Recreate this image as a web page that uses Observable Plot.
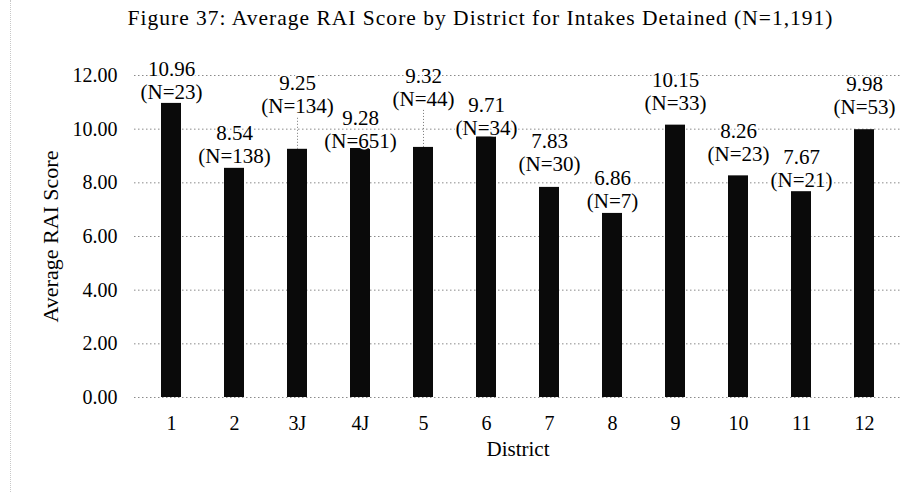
<!DOCTYPE html>
<html>
<head>
<meta charset="utf-8">
<script src="https://cdn.jsdelivr.net/npm/d3@7"></script>
<script src="https://cdn.jsdelivr.net/npm/@observablehq/plot@0.6"></script>
<style>
  html, body { margin: 0; padding: 0; background: #fff; }
  #wrap { position: relative; width: 915px; height: 492px; overflow: hidden; }
  #edge { position: absolute; left: 10px; top: 0; height: 492px; border-left: 1px dotted #c8c8c8; }
</style>
</head>
<body>
<div id="wrap"><div id="edge"></div></div>
<script>
const districts = ["1", "2", "3J", "4J", "5", "6", "7", "8", "9", "10", "11", "12"];
const scores = [10.96, 8.54, 9.25, 9.28, 9.32, 9.71, 7.83, 6.86, 10.15, 8.26, 7.67, 9.98];
const counts = [23, 138, 134, 651, 44, 34, 30, 7, 33, 23, 21, 53];
const yTicks = [0, 2, 4, 6, 8, 10, 12];
const titleText = "Figure 37: Average RAI Score by District for Intakes Detained (N=1,191)";
const yLabel = "Average RAI Score";
const xLabel = "District";

// layout: pixel lift of each "(N=…)" label above its bar top
const labelLift = [11, 12, 43, 7, 48, 9, 23, 12, 22, 22, 11, 22];
const leaderBars = ["3J", "5"];

const W = 915, H = 492;
const mT = 75, mB = 95, mL = 134, mR = 14;
const yMax = 12;
const ppu = (H - mT - mB) / yMax;

const data = districts.map((d, i) => ({
  district: d, score: scores[i], n: counts[i], lift: labelLift[i]
}));

const font = "'Liberation Serif', 'Times New Roman', serif";

const chart = Plot.plot({
  width: W, height: H,
  marginTop: mT, marginBottom: mB, marginLeft: mL, marginRight: mR,
  style: { fontFamily: font, fontSize: "20px", color: "#000", background: "transparent" },
  x: { domain: districts, paddingInner: 0.687, paddingOuter: 0.3435, label: null },
  y: { domain: [0, yMax], label: null },
  marks: [
    Plot.ruleY(yTicks, { stroke: "#8a8a8a", strokeDasharray: "1.5,2.5", strokeWidth: 1 }),
    Plot.barY(data, { x: "district", y: "score", fill: "#0a0a0a" }),
    Plot.ruleX(data.filter(d => leaderBars.includes(d.district)), {
      x: "district", y1: "score", y2: d => d.score + (d.lift - 10) / ppu,
      stroke: "#777", strokeDasharray: "1,2", strokeWidth: 1
    }),
    Plot.text(data, {
      x: "district", y: d => d.score + d.lift / ppu,
      text: d => `(N=${d.n})`, lineAnchor: "middle",
      fill: "#000", stroke: "white", strokeWidth: 3, fontSize: 21
    }),
    Plot.text(data, {
      x: "district", y: d => d.score + d.lift / ppu, dy: -23,
      text: d => d.score.toFixed(2), lineAnchor: "middle",
      fill: "#000", stroke: "white", strokeWidth: 3, fontSize: 21
    }),
    Plot.axisY(yTicks, { tickSize: 0, tickPadding: 17, tickFormat: d => d.toFixed(2), fontSize: 20, label: null }),
    Plot.axisX(districts, { tickSize: 0, tickPadding: 18, fontSize: 20, label: null }),
    Plot.text([yLabel], { frameAnchor: "left", textAnchor: "middle", dx: -84, rotate: -90, fontSize: 22 }),
    Plot.text([xLabel], { frameAnchor: "bottom", lineAnchor: "middle", dy: 52, fontSize: 21 }),
    Plot.text([titleText], { frameAnchor: "top", lineAnchor: "middle", dy: -57, dx: -38, fontSize: 21.5, className: "ttl" })
  ]
});

document.getElementById("wrap").appendChild(chart);
chart.style.position = "absolute";
chart.style.left = "0px";
chart.style.top = "0px";
const t = chart.querySelector("g.ttl text");
if (t) { t.setAttribute("textLength", "705"); t.setAttribute("lengthAdjust", "spacing"); }
</script>
</body>
</html>
